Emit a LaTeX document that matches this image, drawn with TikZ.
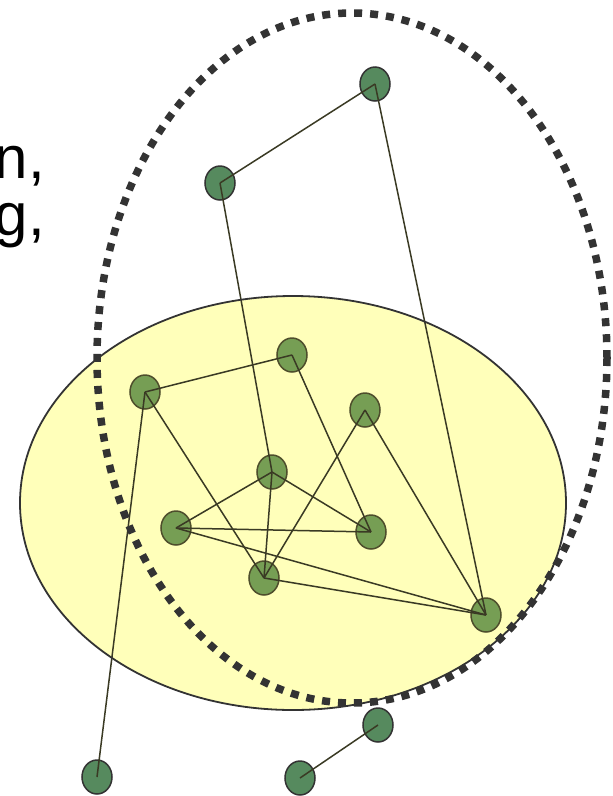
\documentclass[tikz,border=0pt]{standalone}
\usepackage{fontspec}
\setmainfont{Liberation Sans}
\usetikzlibrary{shapes.geometric}
\definecolor{nodegreen}{RGB}{86,138,94}
\definecolor{innergreen}{RGB}{118,158,84}
\definecolor{innerborder}{RGB}{78,78,44}
\definecolor{edgec}{RGB}{51,51,51}
\definecolor{inneredge}{RGB}{58,58,36}
\definecolor{yellowfill}{RGB}{255,255,186}
\begin{document}
\begin{tikzpicture}[x=1pt,y=-1pt,
  gnode/.style={ellipse, draw=edgec, line width=1.5pt, fill=nodegreen,
    minimum width=30pt, minimum height=34pt, inner sep=0pt},
  innode/.style={gnode, fill=innergreen, draw=innerborder},
  edge/.style={draw=inneredge, line width=1.5pt},
  bigtext/.style={anchor=base east, inner sep=0pt, font=\fontsize{60}{60}\selectfont},
  yellowzone/.style={fill=yellowfill},
  zoneborder/.style={draw=edgec, line width=1.8pt},
  dotring/.style={draw=edgec, line width=7.5pt, dash pattern=on 8pt off 8pt}]
\useasboundingbox (0,0) rectangle (613,796);
\clip (0,0) rectangle (613,796);
% yellow zone fill
\path[yellowzone] (293,503) ellipse [x radius=273, y radius=207];
% text fragments
\node[bigtext] (t1) at (45,178) {n,};
\node[bigtext] (t2) at (45,235) {g,};
% nodes
\node[gnode] (A) at (375,84) {};
\node[gnode] (B) at (220,183) {};
\node[innode] (C) at (292,355) {};
\node[innode] (D) at (145,392) {};
\node[innode] (E) at (365,410) {};
\node[innode] (F) at (272,472) {};
\node[innode] (G) at (176,528) {};
\node[innode] (H) at (371,532) {};
\node[innode] (I) at (264,578) {};
\node[innode] (J) at (486,615) {};
\node[gnode] (K) at (378,725) {};
\node[gnode] (L) at (97,777) {};
\node[gnode] (M) at (300,778) {};
% edges
\draw[edge] (A.center) -- (B.center);
\draw[edge] (A.center) -- (J.center);
\draw[edge] (B.center) -- (F.center);
\draw[edge] (D.center) -- (C.center);
\draw[edge] (D.center) -- (L.center);
\draw[edge] (D.center) -- (I.center);
\draw[edge] (C.center) -- (H.center);
\draw[edge] (F.center) -- (G.center);
\draw[edge] (F.center) -- (H.center);
\draw[edge] (F.center) -- (I.center);
\draw[edge] (G.center) -- (H.center);
\draw[edge] (G.center) -- (J.center);
\draw[edge] (I.center) -- (J.center);
\draw[edge] (E.center) -- (I.center);
\draw[edge] (E.center) -- (J.center);
\draw[edge] (K.center) -- (M.center);
% yellow zone border
\draw[zoneborder] (293,503) ellipse [x radius=273, y radius=207];
% dotted ring
\draw[dotring] (352,358) ellipse [x radius=255, y radius=345];
\end{tikzpicture}
\end{document}
